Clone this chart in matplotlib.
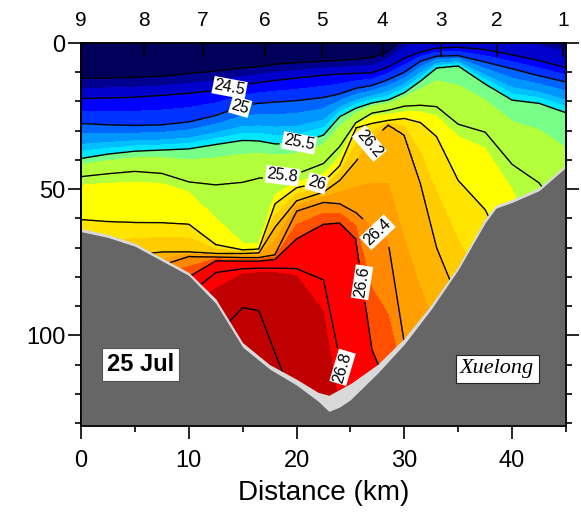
"""
Density section across the shelf, 25 Jul (Xuelong)
"""
import numpy as np
import matplotlib
matplotlib.use('Agg')
import matplotlib.pyplot as plt
from matplotlib.ticker import MultipleLocator

plt.rcParams['font.family'] = ['Liberation Sans', 'DejaVu Sans']

x_nodes = [0, 2.5, 5, 7.5, 10, 12.5, 15, 16.5, 18, 20, 22.5, 24, 25.5, 27, 28.5,
           30, 31.5, 33, 35, 37.5, 40, 42.5, 45]

# depth (m) of each isopycnal at x_nodes (negative = above surface, large = below bottom)
d_240 = [12, 12, 11.8, 11.4, 10.5, 9.6, 8.6, 8.1, 7.3, 6.8, 6.3, 6.0, 5.6, 5.0, 3.0,
         -2, -6, -12, -14, -12, -8, -4, -3]
d_245 = [19, 18.8, 18.5, 17.9, 17.2, 16.2, 14.4, 13.5, 12.8, 12.0, 11.0, 10.6, 10.4, 10.2, 8.2,
         5.2, 3.1, 1.8, 1.5, 2.3, 4.1, 6.0, 8.5]
d_250 = [27.5, 28, 28.2, 28, 27, 24.8, 21.5, 20.6, 20.2, 19.7, 18.6, 17.4, 15.5, 14.5, 12.5,
         10.0, 6.2, 4.5, 4.3, 6.5, 8.8, 11.2, 13.3]
d_255 = [39.5, 38, 37, 36.6, 36.2, 34.7, 33.3, 33.5, 34.5, 34.4, 31.5, 25.2, 22.3, 20.5, 19.5,
         17.0, 13.0, 8.5, 7.8, 14.0, 19.5, 20.6, 23.8]
d_258 = [45.7, 44.7, 43.9, 44.6, 47.5, 48.5, 47.6, 46.2, 45.7, 44.8, 41.2, 35.4, 27.3, 24.0, 23.0,
         21.6, 21.3, 21.8, 27.8, 30.5, 41.5, 47.8, 60]
d_259 = [48.6, 48, 47.5, 48, 51, 60, 68.5, 68.5, 52, 47.5, 45, 39, 28.2, 25.0, 24.4,
         23.6, 23.5, 25.0, 32, 36, 50, 70, 85]
d_260 = [60.4, 61.1, 61.4, 61.5, 62, 69, 70.8, 70.5, 55, 49.5, 47.5, 42, 29, 27.5, 26.5,
         25.8, 27.2, 32, 47, 57, 75, 88, 95]
d_262 = [76, 74, 72.5, 71.5, 71.5, 72, 72, 71.8, 63, 54, 51, 47, 40.5, 33, 28,
         31.5, 48, 70, 88, 110, 110, 110, 110]
d_264 = [84, 82, 79, 76, 73, 73.2, 73.4, 73.4, 72.5, 57.5, 54.5, 55, 58, 63, 68,
         103, 120, 125, 125, 125, 125, 125, 125]
d_266 = [90, 88, 85, 83, 80, 74.5, 74.6, 74.6, 74, 67, 62, 61.5, 67, 105, 118,
         130, 135, 135, 135, 135, 135, 135, 135]
d_268 = [95, 93, 90, 88, 86, 78.5, 77.2, 77, 77, 77.2, 81, 108, 125, 135, 145,
         145, 145, 145, 145, 145, 145, 145, 145]
d_269 = [100, 98, 95, 93, 91, 84, 79, 78.5, 78.5, 79.5, 92, 125, 135, 145, 150,
         150, 150, 150, 150, 150, 150, 150, 150]
d_270 = [110, 108, 105, 103, 101, 100, 90.5, 91.5, 106, 125, 135, 140, 145, 150, 155,
         155, 155, 155, 155, 155, 155, 155, 155]

sig_levels = [24.0, 24.5, 25.0, 25.5, 25.8, 25.9, 26.0, 26.2, 26.4, 26.6, 26.8, 26.9, 27.0]
sig_depths = [d_240, d_245, d_250, d_255, d_258, d_259, d_260, d_262, d_264, d_266,
              d_268, d_269, d_270]

# bottom: data limit and sea bed
bot_x = [0, 2.5, 5, 7.5, 10, 12.5, 15, 17.5, 20, 22, 23, 24, 25, 27.5, 30, 32.5, 35,
         37.5, 38.5, 40, 42.5, 45]
seabed = [64.5, 66.5, 69.5, 74.5, 79.5, 89, 104, 111.5, 117, 122.5, 126, 124.5, 122, 113,
          103, 91, 77.5, 61.5, 56.5, 54.5, 50.5, 42.5]
data_bot = [63.5, 65.5, 68.5, 73.5, 78.5, 87.5, 102.5, 110, 115, 119.5, 120.5, 118.5, 116.5,
            110, 101, 89.5, 76.3, 60, 55.5, 53.5, 49.5, 41.5]

# stations along the top
station_km = [0, 5.85, 11.3, 17.1, 22.4, 28.0, 33.4, 38.6, 44.7]
station_lbl = ['9', '8', '7', '6', '5', '4', '3', '2', '1']

# colour classes
fill_levels = [23.0, 24.0, 24.25, 24.5, 24.75, 25.0, 25.15, 25.3, 25.4, 25.5, 25.6,
               25.9, 26.0, 26.1, 26.2, 26.3, 26.4, 26.5, 26.6, 26.9, 28.0]
fill_colors = ['#00005a', '#000090', '#0000cc', '#0000ff', '#0032ff', '#0064ff', '#0096ff',
               '#00c0ff', '#00e6ff', '#78ff88', '#b4ff3c', '#ffff00', '#ffe400',
               '#ffcc00', '#ffb400', '#ffa000', '#ff8800', '#ff5000', '#ff0000', '#c00000']

plain_levels = [24.0, 27.0]
label_levels = [24.5, 25.0, 25.5, 25.8, 26.0, 26.2, 26.4, 26.6, 26.8]
label_pos = [(13.8, 15.5), (14.8, 22), (20.3, 35), (18.7, 46), (21.9, 48),
             (27.5, 36.5), (27.7, 64), (25.9, 82), (24.2, 111)]

# build the gridded section from the isopycnal depths
xg = np.linspace(0, 45, 451)
zg = np.linspace(0, 131, 656)
D = np.array([np.interp(xg, x_nodes, d) for d in sig_depths])
lev_ext = np.concatenate([[23.0], sig_levels, [28.0]])
S = np.empty((len(zg), len(xg)))
for j in range(len(xg)):
    dcol = np.concatenate([[-60.0], D[:, j], [400.0]])
    dcol = np.maximum.accumulate(dcol + np.arange(len(dcol)) * 1e-6)
    S[:, j] = np.interp(zg, dcol, lev_ext)

fig = plt.figure(figsize=(5.81, 5.15), dpi=100)
ax = fig.add_axes([81 / 581, 1 - 426 / 515, 485 / 581, 383 / 515])

ax.contourf(xg, zg, S, levels=fill_levels, colors=fill_colors, zorder=1)
ax.contour(xg, zg, S, levels=plain_levels, colors='k', linewidths=1.0, zorder=2)
cs = ax.contour(xg, zg, S, levels=label_levels, colors='k', linewidths=1.0, zorder=2)
labels = ax.clabel(cs, manual=label_pos, inline=True, inline_spacing=4,
                   fmt='%g', fontsize=11.5)
for t in labels:
    t.set_bbox(dict(boxstyle='square,pad=0.08', facecolor='white', edgecolor='none'))
    t.set_zorder(5)

# bottom topography
ax.fill_between(bot_x, data_bot, 140, color='#d9d9d9', lw=0, zorder=3)
ax.fill_between(bot_x, seabed, 140, color='#666666', lw=0, zorder=3)

ax.text(5.5, 110, '25 Jul', fontsize=17, fontweight='bold', ha='center', va='center',
        bbox=dict(boxstyle='square,pad=0.2', facecolor='white', edgecolor='#555555', lw=0.8),
        zorder=6)
ax.text(38.6, 111.5, 'Xuelong', family='Liberation Serif', style='italic', fontsize=16,
        ha='center', va='center',
        bbox=dict(boxstyle='square,pad=0.2', facecolor='white', edgecolor='#222222', lw=0.8),
        zorder=6)

ax.set_xlim(0, 45)
ax.set_ylim(131, 0)
ax.set_xticks([0, 10, 20, 30, 40])
ax.xaxis.set_minor_locator(MultipleLocator(5))
ax.set_yticks([0, 50, 100])
ax.yaxis.set_minor_locator(MultipleLocator(10))
ax.tick_params(axis='x', which='major', direction='out', length=9, width=1.2,
               labelsize=17, pad=8, top=False)
ax.tick_params(axis='x', which='minor', direction='out', length=4, width=1.2, top=False)
ax.tick_params(axis='y', which='major', direction='out', length=9.5, width=1.2,
               labelsize=17, pad=1.5, right=True)
ax.tick_params(axis='y', which='minor', direction='out', length=4.5, width=1.2, right=True)
for s in ax.spines.values():
    s.set_linewidth(1.2)
ax.set_xlabel('Distance (km)', fontsize=20, labelpad=6)

# station numbers on top
axt = ax.twiny()
axt.set_xlim(0, 45)
axt.set_xticks(station_km)
axt.set_xticklabels(station_lbl)
axt.tick_params(axis='x', direction='in', length=10, width=1.2, labelsize=15, pad=9)
for s in axt.spines.values():
    s.set_linewidth(1.2)

fig.savefig('out.png', dpi=100)
